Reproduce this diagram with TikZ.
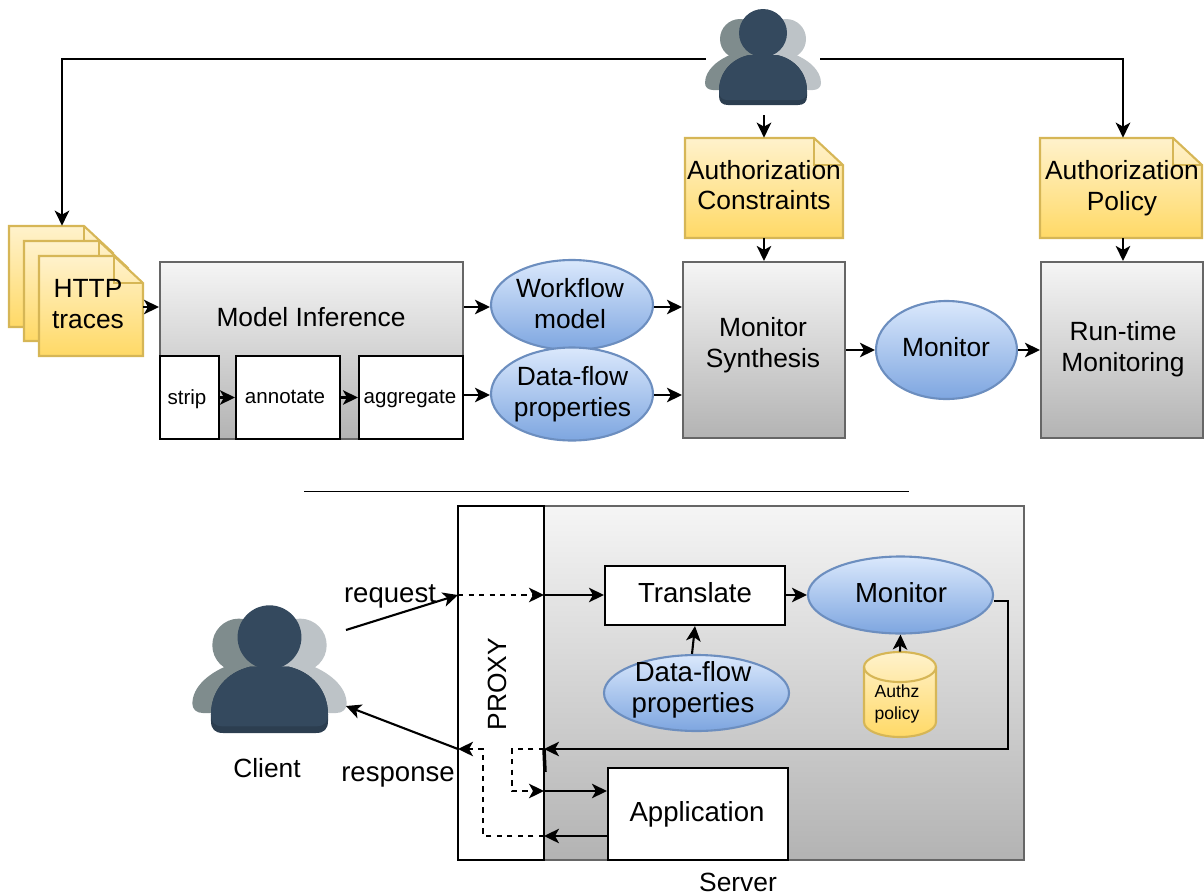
\documentclass[tikz,border=0pt]{standalone}
\usepackage{fontspec}
\setmainfont{Liberation Sans}
\usetikzlibrary{shapes,shapes.geometric,positioning,arrows.meta}
\definecolor{noteT}{HTML}{FFF2CC}
\definecolor{noteB}{HTML}{FFD966}
\definecolor{noteL}{HTML}{D6B656}
\definecolor{blueT}{HTML}{DAE8FC}
\definecolor{blueB}{HTML}{7EA6E0}
\definecolor{blueL}{HTML}{6C8EBF}
\definecolor{grayT}{HTML}{F5F5F5}
\definecolor{grayB}{HTML}{B3B3B3}
\definecolor{grayL}{HTML}{666666}
\definecolor{userM}{HTML}{34495E}
\definecolor{userD}{HTML}{2C3E50}
\definecolor{userL}{HTML}{7F8C8D}
\definecolor{userR}{HTML}{BDC3C7}
\tikzset{
  >={Stealth[length=3mm,width=2.9mm,inset=0.8mm]},
  wire/.style={line width=1.2pt},
  wh/.style 2 args={minimum width=#1*0.02cm,minimum height=#2*0.02cm,inner sep=0pt},
  bigtext/.style={font=\fontsize{15}{17.5}\selectfont,align=center,inner sep=0pt},
  lowtext/.style={font=\fontsize{15.7}{18}\selectfont,align=center,inner sep=0pt},
  smalltext/.style={font=\fontsize{11.7}{14}\selectfont,align=center,inner sep=0pt},
  graybox/.style={draw=grayL,line width=1.2pt,top color=grayT,bottom color=grayB},
  whitebox/.style={draw=black,line width=1.2pt,fill=white},
  blob/.style={ellipse,draw=blueL,line width=1.2pt,top color=blueT,bottom color=blueB},
  notefill/.style={draw=noteL,line width=1.2pt,top color=noteT,bottom color=noteB},
  pics/person/.style={code={
    \fill[userL] (-58,-22) .. controls (-58,-35) and (-45,-46) .. (-28,-52) -- (0,-52) -- (0,-15) -- (-50,-15) .. controls (-55,-15) and (-58,-18) .. (-58,-22) -- cycle;
    \fill[userL] (-23,-66) circle (20);
    \fill[userR] (58,-22) .. controls (58,-35) and (45,-46) .. (28,-52) -- (0,-52) -- (0,-15) -- (50,-15) .. controls (55,-15) and (58,-18) .. (58,-22) -- cycle;
    \fill[userR] (23,-66) circle (20);
    \fill[userD] (-14,-50) .. controls (-32,-46) and (-44,-32) .. (-44,-14) -- (-44,-9) .. controls (-44,-3) and (-41,0) .. (-35,0) -- (35,0) .. controls (41,0) and (44,-3) .. (44,-9) -- (44,-14) .. controls (44,-32) and (32,-46) .. (14,-50) -- cycle;
    \fill[userM] (-14,-50) .. controls (-32,-46) and (-44,-32) .. (-44,-14) .. controls (-44,-9) and (-42,-5) .. (-35,-5) -- (35,-5) .. controls (42,-5) and (44,-9) .. (44,-14) .. controls (44,-32) and (32,-46) .. (14,-50) -- cycle;
    \fill[userM] (0,-72) circle (24);
  }}
}
% dog-ear sheet: name, left, top, width, height
\newcommand{\notesheet}[5]{
  \path[notefill] (#2,#3) -- ({#2+#4-29},#3) -- ({#2+#4},{#3+27}) -- ({#2+#4},{#3+#5}) -- (#2,{#3+#5}) -- cycle;
  \draw[draw=noteL,line width=1.2pt] ({#2+#4-29},#3) -- ({#2+#4-29},{#3+27}) -- ({#2+#4},{#3+27});
  \node[wh={#4}{#5}] (#1) at ({#2+#4/2},{#3+#5/2}) {};
}
\begin{document}
\begin{tikzpicture}[x=0.02cm,y=-0.02cm]
        \useasboundingbox (0,0) rectangle (1204,896);
        % users
        \pic at (763,105) {person};
        \pic[scale=1.33] at (269.5,733) {person};
        \coordinate (UL) at (706,59);
        \coordinate (UR) at (820,59);
        \coordinate (UB) at (764,115);
        % sheets
        \notesheet{HA}{9}{226}{104}{101}
        \notesheet{HB}{24}{241}{104}{100}
        \notesheet{HC}{39}{256}{104}{100}
        \notesheet{AC}{685}{138}{158}{100}
        \notesheet{AP}{1040}{138}{162}{100}
        \node[bigtext] (HCtext) at (88,304) {HTTP\\traces};
        \node[bigtext] (ACtext) at (764,185) {Authorization\\Constraints};
        \node[bigtext] (APtext) at (1122,188) {Authorization\\Policy};
        % inference
        \node[graybox,wh={303}{177}] (MI) at (311.5,350.5) {};
        \node[bigtext] (MItext) at (311,317) {Model Inference};
        \node[whitebox,wh={59}{83}] (ST) at (189.5,397.5) {};
        \node[whitebox,wh={104}{83}] (AN) at (288,397.5) {};
        \node[whitebox,wh={104}{83}] (AG) at (411,397.5) {};
        \node[smalltext] (STtext) at (187,399) {strip};
        \node[smalltext] (ANtext) at (285,397) {annotate};
        \node[smalltext] (AGtext) at (410,399) {aggregate};
        \node[blob,wh={162}{90}] (WF) at (572,305) {};
        \node[blob,wh={162}{93}] (DF) at (572,394) {};
        \node[bigtext] (WFtext) at (570,303.5) {Workflow\\model};
        \node[bigtext] (DFtext) at (572.5,394) {Data-flow\\properties};
        \node[graybox,wh={162}{176}] (MS) at (764,350) {};
        \node[bigtext] (MStext) at (763,345.5) {Monitor\\Synthesis};
        \node[blob,wh={141}{98}] (MO) at (946.5,350) {};
        \node[bigtext] (MOtext) at (946,347) {Monitor};
        \node[graybox,wh={162}{176}] (RT) at (1122,350) {};
        \node[bigtext] (RTtext) at (1123,349) {Run-time\\Monitoring};
        \draw[wire,->] (UL) -| (HA.north -| 62,0);
        \draw[wire,->] (UR) -| (AP.north -| 1123,0);
        \draw[wire,->] (UB) -- (AC.north -| UB);
        \draw[wire,->] (AC.south -| UB) -- (MS.north -| UB);
        \draw[wire,->] (AP.south -| 1123,0) -- (RT.north -| 1123,0);
        \draw[wire,->] (HC.east |- 0,307) -- (MI.west |- 0,307);
        \draw[wire,->] (ST.east) -- (AN.west);
        \draw[wire,->] (AN.east) -- (AG.west);
        \draw[wire,->] (MI.east |- 0,307) -- (WF.west |- 0,307);
        \draw[wire,->] (AG.east |- 0,395) -- (DF.west |- 0,395);
        \draw[wire,->] (WF.east |- 0,307) -- (MS.west |- 0,307);
        \draw[wire,->] (DF.east |- 0,395) -- (MS.west |- 0,395);
        \draw[wire,->] (MS.east) -- (MO.west);
        \draw[wire,->] (MO.east) -- (RT.west);
        % separator
        \coordinate (SL) at (304,491);
        \coordinate (SR) at (909,491);
        \draw[line width=0.4pt] (SL) -- (SR);
        % server
        \node[graybox,wh={566}{354}] (SV) at (741,683) {};
        \node[whitebox,wh={86}{354}] (PX) at (501,683) {};
        \node[bigtext,rotate=90] (PXtext) at (497,684) {PROXY};
        \node[whitebox,wh={180}{59}] (TR) at (695,595.5) {};
        \node[lowtext] (TRtext) at (695,593) {Translate};
        \node[blob,wh={185}{77}] (MN) at (900.5,595) {};
        \node[lowtext] (MNtext) at (901,593) {Monitor};
        \node[blob,wh={185}{76}] (DP) at (696.5,693) {};
        \node[lowtext] (DPtext) at (693,690) {Data-flow\\properties};
        \path[notefill] (864,667) -- (864,722) arc[start angle=180,end angle=0,x radius=36,y radius=15] -- (936,667) arc[start angle=0,end angle=-180,x radius=36,y radius=15] -- cycle;
        \draw[draw=noteL,line width=1.2pt] (864,667) arc[start angle=180,end angle=0,x radius=36,y radius=15];
        \node[wh={72}{85}] (AU) at (900,694.5) {};
        \node[font=\fontsize{10}{12.4}\selectfont,align=center,inner sep=0pt] (AUtext) at (897,704) {Authz\\policy};
        \node[whitebox,wh={180}{92}] (AP2) at (698,814) {};
        \node[lowtext] (AP2text) at (697,814) {Application};
        \node[bigtext] (CL) at (267,768) {Client};
        \node[bigtext] (SVtext) at (738,882) {Server};
        \node[lowtext] (RQ) at (390,596) {request};
        \node[lowtext] (RS) at (398,777) {response};
        % proxy links
        \coordinate (CO) at (346,630);
        \coordinate (CI) at (346,706);
        \coordinate (PA) at (458,595);
        \coordinate (PB) at (544,595);
        \coordinate (PC) at (544,749);
        \coordinate (PD) at (458,749);
        \coordinate (PE) at (544,791);
        \coordinate (PF) at (544,836);
        \coordinate (PG) at (545,772);
        \draw[wire,->] (CO) -- (PA);
        \draw[wire,dashed,->] (PA) -- (PB);
        \draw[wire,->] (PB) -- (TR.west |- PB);
        \draw[wire,->] (TR.east |- MN.west) -- (MN.west);
        \draw[wire,->] (DP.north -| 692,0) -- (TR.south);
        \draw[wire,->] (AU.north -| 900,0) -- (MN.south);
        \draw[wire,->] (MN.east |- 0,601) -- (1008,601) -- (1008,749) -- (PC);
        \draw[line width=2pt] (PC) -- (PG);
        \draw[wire,dashed,->] (PC) -- (512,749) -- (512,791) -- (PE);
        \draw[wire,->] (PE) -- (AP2.west |- PE);
        \draw[wire,->] (AP2.west |- PF) -- (PF);
        \draw[wire,dashed,->] (PF) -- (483,836) -- (483,749) -- (PD);
        \draw[wire,->] (PD) -- (CI);
\end{tikzpicture}
\end{document}
